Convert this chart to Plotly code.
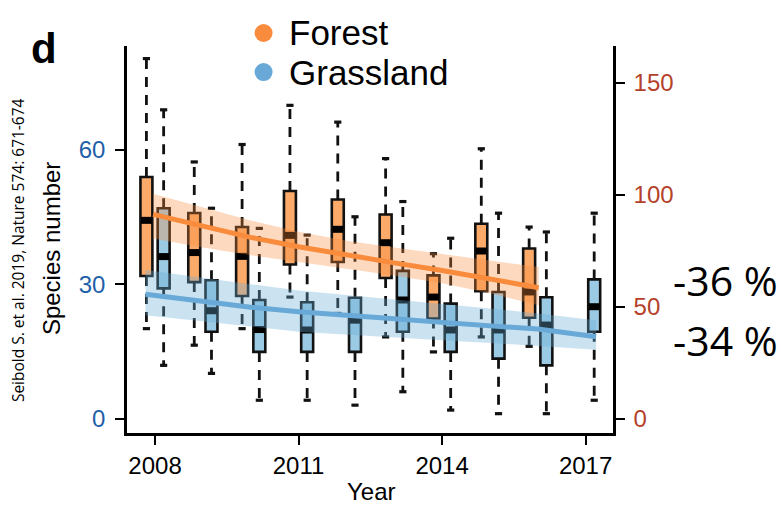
import plotly.graph_objects as go

# ---------------- data ----------------
years = [2008, 2009, 2010, 2011, 2012, 2013, 2014, 2015, 2016, 2017]

# Forest (right axis units)
forest_years = [2008, 2009, 2010, 2011, 2012, 2013, 2014, 2015, 2016]
forest_low = [40.2, 32.8, 40.2, 54.3, 47.0, 36.5, 29.8, 36.5, 32.3]
forest_q1 = [63.7, 61.0, 54.8, 68.9, 70.0, 62.8, 44.7, 56.9, 45.1]
forest_med = [88.6, 74.2, 72.5, 81.9, 84.6, 78.6, 54.3, 74.9, 56.6]
forest_q3 = [108.0, 91.9, 85.6, 101.7, 97.9, 91.2, 64.0, 87.1, 76.0]
forest_high = [160.9, 114.7, 122.5, 140.0, 132.5, 116.2, 73.7, 120.6, 85.6]

# Grassland (left axis units)
grass_years = [2008, 2009, 2010, 2011, 2012, 2013, 2014, 2015, 2016, 2017]
grass_low = [11.9, 10.1, 4.1, 4.1, 3.0, 6.0, 1.9, 1.1, 1.1, 4.1]
grass_q1 = [29.1, 19.4, 14.9, 14.9, 14.9, 19.4, 14.9, 13.4, 11.9, 19.4]
grass_med = [36.2, 24.1, 19.9, 19.8, 22.0, 26.5, 19.8, 19.8, 20.9, 25.0]
grass_q3 = [47.0, 30.9, 26.5, 26.0, 27.0, 33.0, 25.7, 28.3, 27.1, 31.1]
grass_high = [69.0, 47.0, 42.5, 41.0, 45.1, 48.5, 40.3, 45.9, 41.7, 45.9]

# Fitted trends with confidence bands
forest_fit_x = [2007.96, 2009, 2010, 2011, 2012, 2013, 2014, 2015, 2016.02]
forest_fit = [91.3, 86.0, 81.0, 76.8, 73.0, 69.6, 66.2, 62.6, 58.5]
forest_fit_hi = [100.5, 94.5, 88.5, 83.5, 79.5, 76.5, 73.5, 70.5, 67.7]
forest_fit_lo = [80.5, 76.5, 73.0, 70.0, 67.0, 64.0, 60.5, 56.0, 50.6]

grass_fit_x = [2007.8, 2009, 2010, 2011, 2012, 2013, 2014, 2015, 2016, 2017.22]
grass_fit = [27.8, 26.1, 24.9, 23.9, 23.0, 22.3, 21.5, 20.8, 20.0, 18.3]
grass_fit_hi = [33.2, 31.5, 30.0, 28.6, 27.6, 26.6, 25.7, 24.6, 23.5, 22.0]
grass_fit_lo = [23.1, 21.8, 20.6, 19.4, 18.7, 18.1, 17.5, 16.9, 16.3, 15.4]

x_ticks = [2008, 2011, 2014, 2017]
left_ticks = [0, 30, 60]
right_ticks = [0, 50, 100, 150]
changes = ["-36 %", "-34 %"]

# ---------------- style ----------------
RATIO = 2.0           # right axis = 2 x left axis
F_OFF, G_OFF = -0.18, 0.18
BOX_W = 0.25
CAP_HW = 0.075
MED_HW = 0.115
FOREST_BOX = "#FBAA6A"
GRASS_BOX = "#9BCAE4"
FOREST_LINE = "#F98B3C"
GRASS_LINE = "#68A9D7"
FOREST_BAND = "rgba(248,140,62,0.33)"
GRASS_BAND = "rgba(107,174,214,0.35)"
EDGE = "#111111"
FONT = "Liberation Sans, Arial, sans-serif"

fig = go.Figure()


def to_left(vals, k):
    return [v / k for v in vals]


def add_group(xs, off, low, q1, med, q3, high, k, fill):
    xc = [x + off for x in xs]
    lo, a, m, b, hi = (to_left(v, k) for v in (low, q1, med, q3, high))
    # boxes
    fig.add_trace(go.Bar(x=xc, base=a, y=[bb - aa for aa, bb in zip(a, b)],
                         width=BOX_W, marker=dict(color=fill, line=dict(color=EDGE, width=2.6)),
                         showlegend=False, hoverinfo="skip"))
    return xc, lo, a, m, b, hi


groups = [
    add_group(forest_years, F_OFF, forest_low, forest_q1, forest_med, forest_q3, forest_high, RATIO, FOREST_BOX),
    add_group(grass_years, G_OFF, grass_low, grass_q1, grass_med, grass_q3, grass_high, 1.0, GRASS_BOX),
]

for xc, lo, a, m, b, hi in groups:
    wx, wy, cx, cy, mx, my = [], [], [], [], [], []
    for x, l, q1, md, q3, h in zip(xc, lo, a, m, b, hi):
        wx += [x, x, None, x, x, None]
        wy += [q3, h, None, q1, l, None]
        cx += [x - CAP_HW, x + CAP_HW, None, x - CAP_HW, x + CAP_HW, None]
        cy += [h, h, None, l, l, None]
        mx += [x - MED_HW, x + MED_HW, None]
        my += [md, md, None]
    fig.add_trace(go.Scatter(x=wx, y=wy, mode="lines", line=dict(color=EDGE, width=2.8, dash="10px,8px"),
                             showlegend=False, hoverinfo="skip"))
    fig.add_trace(go.Scatter(x=cx, y=cy, mode="lines", line=dict(color=EDGE, width=3.2),
                             showlegend=False, hoverinfo="skip"))
    fig.add_trace(go.Scatter(x=mx, y=my, mode="lines", line=dict(color="#000000", width=7),
                             showlegend=False, hoverinfo="skip"))

# bands
fig.add_trace(go.Scatter(x=forest_fit_x + forest_fit_x[::-1],
                         y=to_left(forest_fit_hi, RATIO) + to_left(forest_fit_lo, RATIO)[::-1],
                         fill="toself", fillcolor=FOREST_BAND, line=dict(width=0), mode="lines",
                         showlegend=False, hoverinfo="skip"))
fig.add_trace(go.Scatter(x=grass_fit_x + grass_fit_x[::-1],
                         y=grass_fit_hi + grass_fit_lo[::-1],
                         fill="toself", fillcolor=GRASS_BAND, line=dict(width=0), mode="lines",
                         showlegend=False, hoverinfo="skip"))
# trend lines
fig.add_trace(go.Scatter(x=grass_fit_x, y=grass_fit, mode="lines",
                         line=dict(color=GRASS_LINE, width=5), showlegend=False, hoverinfo="skip"))
fig.add_trace(go.Scatter(x=forest_fit_x, y=forest_fit, mode="lines", yaxis="y2",
                         line=dict(color=FOREST_LINE, width=5), showlegend=False, hoverinfo="skip"))

# ---------------- layout ----------------
W, H = 781, 506
L, T = 127, 46
R = W - 612.7
B = H - 432.7
PW, PH = W - L - R, H - T - B


def px(xpix):
    return (xpix - L) / PW


def py(ypix):
    return (H - B - ypix) / PH


LEFT_RANGE = [-3.22, 83.26]
axis_common = dict(showline=True, linecolor="black", linewidth=2.5, ticks="outside", ticklen=9,
                   tickwidth=2.2, tickcolor="black", showgrid=False, zeroline=False)

fig.update_layout(
    width=W, height=H, margin=dict(l=L, r=R, t=T, b=B, pad=0),
    paper_bgcolor="white", plot_bgcolor="white", barmode="overlay", showlegend=False,
    xaxis=dict(range=[2007.414, 2017.573], tickvals=x_ticks, ticktext=[str(v) for v in x_ticks],
               tickfont=dict(family=FONT, size=24, color="black"), **axis_common),
    yaxis=dict(range=LEFT_RANGE, tickvals=left_ticks, ticklabelstandoff=5,
               tickfont=dict(family=FONT, size=24, color="#1F5FA8"), **axis_common),
    yaxis2=dict(range=[v * RATIO for v in LEFT_RANGE], tickvals=right_ticks, overlaying="y",
                side="right", ticklabelstandoff=4,
                tickfont=dict(family=FONT, size=24, color="#B4412A"), **axis_common),
)

ann = [
    dict(text="Year", x=px(371.7), y=py(491), font=dict(family=FONT, size=24, color="black")),
    dict(text="Species number", x=px(51), y=py(248), textangle=-90,
         font=dict(family=FONT, size=24, color="black")),
    dict(text="Seibold S. et al. 2019, Nature 574: 671-674", x=px(18), y=py(250), textangle=-90,
         font=dict(family="Open Sans", size=15.5, color="black")),
    dict(text="<b>d</b>", x=px(44), y=py(48), font=dict(family=FONT, size=42, color="black")),
    dict(text="Forest", x=px(287), y=py(33), xanchor="left",
         font=dict(family=FONT, size=35, color="black")),
    dict(text="Grassland", x=px(287), y=py(72), xanchor="left",
         font=dict(family=FONT, size=35, color="black")),
    dict(text=changes[0], x=px(671), y=py(280), xanchor="left",
         font=dict(family="Open Sans", size=41, color="black")),
    dict(text=changes[1], x=px(671), y=py(340), xanchor="left",
         font=dict(family="Open Sans", size=41, color="black")),
]
for a in ann:
    a.setdefault("xanchor", "center")
    a.update(xref="paper", yref="paper", yanchor="middle", showarrow=False)
    fig.add_annotation(**a)

for yy, col in [(33, FOREST_LINE), (72, GRASS_LINE)]:
    fig.add_shape(type="circle", xref="paper", yref="paper", xsizemode="pixel", ysizemode="pixel",
                  xanchor=px(263.5), yanchor=py(yy), x0=-9, x1=9, y0=-9, y1=9,
                  fillcolor=col, line=dict(width=0))

fig.write_html("out.html")
